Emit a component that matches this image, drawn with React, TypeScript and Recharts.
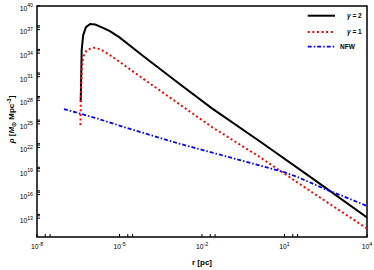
/**
 * DensityProfile — dark matter spike density profiles vs NFW, log-log.
 * gamma=2 black solid, gamma=1 red dotted, NFW blue dash-dot
 */
import { LineChart, Line, XAxis, YAxis, ReferenceArea, Legend } from 'recharts';

// values, as log10(r / pc) and log10(rho / Msun Mpc^-3)
const LOG_R_G2 = [-6.41, -6.39, -6.375, -6.32, -6.22, -6.07, -5.88, -5.62, -5.35, -5.0, -4.07, -2.86, -1.65, 0.11, 2.0, 4.0];
const LOG_RHO_G2 = [27.8, 31.5, 34.4, 36.3, 37.3, 37.7, 37.65, 37.25, 36.8, 36.0, 33.45, 30.2, 27.0, 22.75, 18.1, 13.08];

const LOG_R_G1 = [-6.42, -6.4, -6.37, -6.32, -6.19, -5.95, -5.7, -5.28, -4.07, -2.86, -1.65, 0.05, 2.0, 4.0];
const LOG_RHO_G1 = [24.84, 29.3, 32.2, 33.54, 34.4, 34.69, 34.5, 33.6, 30.57, 27.6, 24.62, 20.89, 16.3, 11.68];

const LOG_R_NFW = [-7.02, -5.89, -4.68, -2.86, -0.62, 0.96, 1.5, 2.54, 3.02, 4.0];
const LOG_RHO_NFW = [26.88, 25.77, 24.42, 22.51, 20.38, 18.89, 18.2, 16.6, 15.95, 14.55];

// labelled decades on each axis
const X_LABEL_EXP = [-8, -5, -2, 1, 4];
const Y_LABEL_EXP = [13, 16, 19, 22, 25, 28, 31, 34, 37, 40];

const X_MIN = 1e-8;
const X_MAX = 1e4;
const Y_MIN = 10 ** 10.6;
const Y_MAX = 1e40;

const W = 374;
const H = 270;
const LEFT = 37;
const RIGHT = 7;
const TOP = 6;
const BOTTOM = 33;
const TICK_MARGIN = 4;
const FONT = '"Liberation Sans", Arial, Helvetica, sans-serif';

const toRows = (lr: number[], lrho: number[]) => lr.map((v, i) => ({ r: 10 ** v, rho: 10 ** lrho[i] }));

const SERIES = [
  { name: 'g2', label: '2', color: '#000000', dash: undefined, width: 2, data: toRows(LOG_R_G2, LOG_RHO_G2) },
  { name: 'g1', label: '1', color: '#ff0000', dash: '2 2.6', width: 2, data: toRows(LOG_R_G1, LOG_RHO_G1) },
  { name: 'nfw', label: 'NFW', color: '#0000ff', dash: '4 2 1.5 2', width: 1.8, data: toRows(LOG_R_NFW, LOG_RHO_NFW) },
];

// major decade plus 2x, 3x minor marks, like the original
const withMinor = (exps: number[], lo: number, hi: number) =>
  exps.flatMap((e) => [1, 2, 3].map((m) => m * 10 ** e)).filter((v) => v >= lo * 0.999 && v <= hi * 1.001);

const X_TICKS = withMinor(X_LABEL_EXP, X_MIN, X_MAX);
const Y_TICKS = withMinor(Y_LABEL_EXP, Y_MIN, Y_MAX);

function majorExp(v: number, exps: number[]) {
  const e = Math.round(Math.log10(v));
  return Math.abs(v / 10 ** e - 1) < 1e-6 && exps.includes(e) ? e : null;
}

function XTick({ x, y, payload }: any) {
  const axisY = y - TICK_MARGIN;
  const e = majorExp(payload.value, X_LABEL_EXP);
  return (
    <g>
      <line x1={x} x2={x} y1={axisY} y2={axisY - 3} stroke="#000" strokeWidth={1} />
      {e != null && (
        <text x={x} y={axisY + 12} textAnchor="middle" fontSize={6.8} fontFamily={FONT} fill="#000">
          10<tspan dy={-3.4} fontSize={5.2}>{e}</tspan>
        </text>
      )}
    </g>
  );
}

function YTick({ x, y, payload }: any) {
  const axisX = x + TICK_MARGIN;
  const e = majorExp(payload.value, Y_LABEL_EXP);
  return (
    <g>
      <line x1={axisX} x2={axisX + 3} y1={y} y2={y} stroke="#000" strokeWidth={1} />
      {e != null && (
        <text x={x} y={y + 4.8} textAnchor="end" fontSize={6.8} fontFamily={FONT} fill="#000">
          10<tspan dy={-3.4} fontSize={5.2}>{e}</tspan>
        </text>
      )}
    </g>
  );
}

function CustomLegend() {
  const rows = [7.7, 24, 38.7];
  return (
    <svg width={62} height={46} style={{ display: 'block', overflow: 'visible' }}>
      {SERIES.map((s, i) => (
        <g key={s.name}>
          <line x1={2.7} x2={30} y1={rows[i]} y2={rows[i]} stroke={s.color} strokeWidth={s.width} strokeDasharray={s.dash} />
          {s.name === 'nfw' ? (
            <text x={35} y={rows[i] + 2.4} fontSize={6.5} fontWeight="bold" fontFamily={FONT}>{s.label}</text>
          ) : (
            <text x={42} y={rows[i] + 2.4} fontSize={6.5} fontWeight="bold" fontFamily={FONT}>
              <tspan fontStyle="italic">γ</tspan> = {s.label}
            </text>
          )}
        </g>
      ))}
    </svg>
  );
}

export default function App() {
  const plotBottom = H - BOTTOM;
  const plotMidY = (TOP + plotBottom) / 2;
  const plotMidX = (LEFT + W - RIGHT) / 2;
  return (
    <div style={{ position: 'absolute', left: 0, top: 0, width: W, height: H, background: '#fff' }}>
      <LineChart width={W} height={H} margin={{ top: TOP, right: RIGHT, left: 0, bottom: 0 }}>
        <XAxis
          dataKey="r"
          type="number"
          scale="log"
          domain={[X_MIN, X_MAX]}
          allowDataOverflow
          ticks={X_TICKS}
          interval={0}
          tick={<XTick />}
          tickLine={false}
          axisLine={false}
          tickSize={0}
          tickMargin={TICK_MARGIN}
          height={BOTTOM}
          label={{
            content: () => (
              <text x={plotMidX} y={265} textAnchor="middle" fontSize={8} fontWeight="bold" fontFamily={FONT}>
                r [pc]
              </text>
            ),
          }}
        />
        <YAxis
          dataKey="rho"
          type="number"
          scale="log"
          domain={[Y_MIN, Y_MAX]}
          allowDataOverflow
          ticks={Y_TICKS}
          interval={0}
          tick={<YTick />}
          tickLine={false}
          axisLine={false}
          tickSize={0}
          tickMargin={TICK_MARGIN}
          width={LEFT}
          label={{
            content: () => (
              <text
                transform={`translate(14, ${plotMidY - 2}) rotate(-90)`}
                textAnchor="middle"
                fontSize={8}
                fontWeight="bold"
                fontFamily={FONT}
              >
                <tspan fontStyle="italic">ρ</tspan> [<tspan fontStyle="italic">M</tspan>
                <tspan dy={2} fontSize={6}>⊙</tspan>
                <tspan dy={-2}> Mpc</tspan>
                <tspan dy={-3} fontSize={6}>-3</tspan>
                <tspan dy={3}>]</tspan>
              </text>
            ),
          }}
        />
        {SERIES.map((s) => (
          <Line
            key={s.name}
            data={s.data}
            dataKey="rho"
            name={s.name}
            type="linear"
            stroke={s.color}
            strokeWidth={s.width}
            strokeDasharray={s.dash}
            dot={false}
            activeDot={false}
            isAnimationActive={false}
          />
        ))}
        <ReferenceArea
          x1={X_MIN}
          x2={X_MAX}
          y1={Y_MIN}
          y2={Y_MAX}
          fill="none"
          stroke="#000"
          strokeWidth={1.5}
          ifOverflow="visible"
        />
        <Legend
          layout="vertical"
          align="center"
          verticalAlign="middle"
          content={<CustomLegend />}
          wrapperStyle={{ top: 8, left: 305, width: 62 }}
        />
      </LineChart>
    </div>
  );
}
